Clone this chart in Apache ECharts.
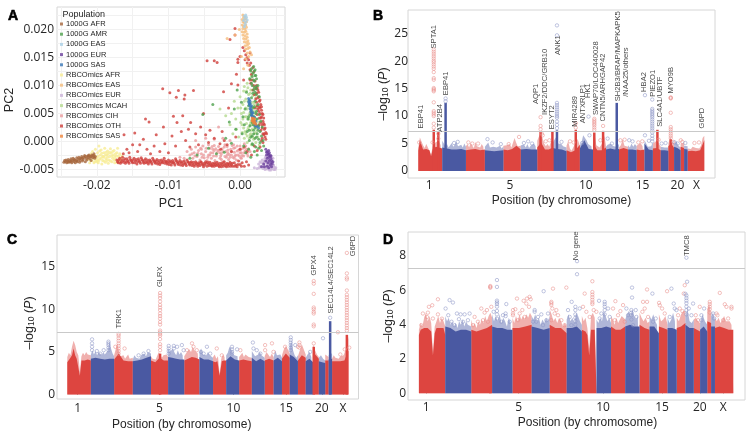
<!DOCTYPE html>
<html><head><meta charset="utf-8"><style>html,body{margin:0;padding:0;background:#fff}#c{width:754px;height:437px}</style>
<script src="https://cdn.jsdelivr.net/npm/echarts@6/dist/echarts.min.js"></script></head><body><div id="c"></div>
<script>
// ---------- Panel A: PC1/PC2, in units of 1e-4 ----------
const g1000AFR=[[-246,-37],[-245,-34],[-244,-36],[-243,-33],[-242,-38],[-241,-35],[-240,-32],[-239,-37],[-238,-34],[-237,-36],[-236,-31],[-235,-38],[-234,-34],[-233,-30],[-232,-36],[-231,-32],[-230,-38],[-229,-34],[-228,-29],[-227,-36],[-226,-32],[-225,-28],[-224,-37],[-223,-34],[-222,-30],[-221,-27],[-220,-35],[-219,-32],[-218,-28],[-217,-25],[-216,-36],[-215,-30],[-214,-33],[-213,-26],[-212,-29],[-211,-24],[-210,-31],[-209,-27],[-208,-34],[-207,-24],[-206,-29],[-205,-25],[-204,-22],[-203,-30],[-202,-27],[-240,-36],[-236,-35],[-232,-33],[-228,-35],[-224,-31],[-220,-30],[-216,-27],[-212,-26],[-208,-27],[-204,-27]];
const g1000AMR=[[-44,-12],[-33,-22],[-22,-19],[-38,66],[-52,48],[-15,35],[-8,58],[-6,22],[-4,92],[2,70],[4,44],[3,14],[5,-8],[6,30],[7,58],[8,-20],[9,88],[10,18],[11,40],[12,-14],[12,64],[13,2],[14,28],[14,112],[15,48],[15,-28],[16,78],[16,130],[17,10],[17,100],[17,34],[18,-6],[18,60],[18,122],[19,20],[19,92],[19,134],[20,44],[20,-18],[20,108],[21,72],[21,6],[21,118],[21,128],[22,30],[22,-10],[22,98],[23,54],[23,84],[23,112],[24,14],[24,40],[24,-24],[25,66],[25,100],[26,4],[26,28],[26,-12],[27,48],[27,80],[28,-2],[28,18],[29,36],[30,10],[30,-16],[31,26],[32,2],[33,-8],[-60,-24],[-70,-30],[-12,-3],[-20,6],[15,126],[17,116],[19,110],[20,126],[22,118],[16,104],[18,86],[20,96],[21,88],[23,94],[13,20],[15,8],[17,-4],[19,14],[21,24],[23,8],[25,20],[12,44],[16,52],[18,30],[20,62],[22,50]];
const g1000EAS=[[6,224],[7,220],[8,226],[5,216],[8,213],[9,222],[7,209],[10,217],[6,205]];
const g1000EUR=[[36,-14],[38,-18],[40,-16],[37,-24],[39,-22],[41,-20],[42,-26],[38,-30],[40,-28],[43,-30],[44,-34],[41,-34],[39,-38],[43,-38],[45,-40],[42,-42],[38,-44],[34,-45],[30,-45],[44,-45],[40,-47],[37,-19],[40,-23],[43,-25],[36,-35],[46,-36],[33,-40]];
const g1000SAS=[[12,77],[13,74],[12,71],[14,68],[13,65],[15,62],[14,59],[16,56],[15,53],[17,50],[16,47],[18,44],[19,41],[18,38],[20,35],[21,32],[22,29],[24,27],[26,24],[14,72],[16,64],[18,52],[20,43],[22,36],[13,68],[15,57],[17,45],[19,37],[21,28]];
const rbcAFR=[[-212,-32],[-210,-38],[-209,-27],[-208,-22],[-207,-34],[-206,-18],[-205,-30],[-204,-38],[-203,-24],[-202,-14],[-201,-34],[-200,-28],[-199,-20],[-198,-38],[-197,-8],[-196,-31],[-195,-24],[-194,-15],[-193,-40],[-192,-34],[-191,-27],[-190,-20],[-189,-12],[-188,-37],[-187,-31],[-186,-24],[-185,-17],[-184,-39],[-183,-33],[-182,-27],[-181,-13],[-180,-21],[-179,-36],[-178,-30],[-177,-24],[-176,-16],[-175,-38],[-174,-32],[-173,-26],[-172,-20],[-171,-12],[-170,-35],[-169,-29],[-168,-22],[-167,-36],[-166,-30],[-165,-26],[-194,-30],[-200,-36],[-186,-34],[-178,-18],[-190,-28],[-182,-19],[-174,-22],[-198,-26],[-205,-25],[-170,-26],[-188,-24],[-202,-30],[-197,-34],[-193,-21],[-190,-35],[-185,-28],[-181,-35],[-176,-33],[-172,-37],[-184,-22],[-192,-27],[-199,-33],[-203,-36],[-196,-17],[-187,-19],[-179,-26],[-175,-28],[-168,-32]];
const rbcEAS=[[4,226],[5,222],[7,223],[3,218],[6,218],[8,219],[4,214],[6,212],[9,214],[3,208],[5,206],[8,208],[4,202],[7,201],[9,204],[3,196],[6,195],[8,197],[4,190],[7,189],[10,192],[5,184],[8,183],[10,186],[6,178],[9,177],[11,180],[7,171],[10,172],[12,175],[8,165],[11,166],[13,168],[10,158],[14,160],[12,152],[16,155],[-18,184],[-7,190],[2,152],[8,148],[5,130],[11,136],[-1,200]];
const rbcEUR=[[26,-40],[28,-44],[30,-38],[32,-48],[33,-42],[34,-35],[35,-50],[36,-44],[37,-38],[38,-33],[38,-49],[39,-43],[40,-38],[41,-51],[42,-46],[42,-33],[43,-42],[44,-48],[45,-37],[46,-44],[47,-50],[48,-46],[46,-30],[35,-30],[31,-33],[28,-36],[44,-27],[40,-25],[36,-27],[41,-48],[49,-50],[20,-47],[24,-48],[30,-44],[33,-37],[36,-48],[39,-35],[43,-51],[47,-42],[50,-47],[27,-47],[34,-46],[38,-41]];
const rbcMCAH=[[-14,30],[-12,50],[-10,14],[-8,72],[-6,40],[-5,22],[-3,60],[-2,8],[0,80],[1,34],[2,50],[3,16],[4,66],[5,24],[5,90],[6,6],[7,44],[8,76],[8,14],[9,32],[10,58],[10,-2],[11,22],[12,84],[12,40],[13,68],[13,6],[14,30],[14,52],[15,14],[15,92],[16,38],[16,-6],[17,62],[17,22],[18,82],[18,46],[19,4],[19,30],[20,66],[20,14],[21,52],[22,-2],[22,78],[23,24],[23,40],[24,60],[25,8],[26,34],[27,-6],[10,104],[6,98],[-20,46],[-28,58],[13,112],[16,118],[3,30],[5,52],[7,18],[8,60],[9,44],[10,10],[11,72],[12,26],[13,48],[14,12],[14,86],[15,34],[15,68],[16,20],[16,54],[17,42],[18,8],[18,70],[19,54],[20,28],[21,38],[21,84],[22,16],[23,62],[24,28],[6,72],[9,90],[11,96],[1,60],[4,40]];
const rbcCIH=[[-70,-24],[-68,-14],[-66,-30],[-64,-20],[-62,-10],[-60,-27],[-58,-16],[-56,-33],[-54,-22],[-52,-8],[-50,-29],[-48,-18],[-46,-34],[-44,-24],[-42,-12],[-40,-30],[-38,-20],[-36,-7],[-35,-34],[-33,-26],[-31,-16],[-30,-9],[-28,-30],[-26,-22],[-25,-13],[-23,-36],[-21,-27],[-20,-18],[-18,-9],[-16,-32],[-15,-23],[-13,-14],[-11,-7],[-10,-28],[-8,-19],[-7,-11],[-5,-33],[-3,-24],[-2,-15],[0,-8],[1,-29],[2,-20],[4,-12],[5,-26],[7,-17],[8,-8],[10,-22],[12,-13],[14,-18],[-74,-18],[-78,-30],[-84,-28],[-90,-34],[-62,2],[-48,6],[-36,4],[-30,26],[-24,6],[-14,2],[-38,-14],[-28,-20],[-18,-24],[-8,-30],[-44,-6],[-54,-14],[2,-30],[-12,-24],[-4,-8],[6,-4],[-67,-22],[-63,-26],[-59,-21],[-55,-12],[-51,-24],[-47,-12],[-45,-28],[-41,-20],[-37,-26],[-34,-13],[-32,-20],[-29,-15],[-27,-26],[-24,-18],[-22,-10],[-19,-28],[-17,-15],[-14,-28],[-12,-18],[-9,-12],[-6,-24],[-4,-17],[-1,-26],[1,-14],[3,-25],[6,-20],[9,-14],[11,-26],[-42,-24],[-36,-16],[-26,-32],[-17,-20],[-7,-26],[0,-20],[-53,-28],[-39,-9],[-21,-6],[-9,-6]];
const rbcOTH=[[-172,-33],[-170,-38],[-168,-30],[-166,-36],[-164,-28],[-162,-34],[-160,-39],[-158,-31],[-156,-36],[-154,-28],[-152,-34],[-150,-38],[-148,-30],[-146,-35],[-144,-40],[-142,-31],[-140,-36],[-138,-29],[-136,-34],[-134,-39],[-132,-31],[-130,-36],[-128,-40],[-126,-33],[-124,-37],[-122,-30],[-120,-35],[-118,-39],[-116,-32],[-114,-37],[-112,-41],[-110,-33],[-108,-38],[-106,-30],[-104,-35],[-102,-40],[-100,-33],[-98,-37],[-96,-42],[-94,-34],[-92,-39],[-90,-31],[-88,-36],[-86,-41],[-84,-34],[-82,-38],[-80,-43],[-78,-35],[-76,-40],[-74,-33],[-72,-37],[-70,-42],[-68,-36],[-66,-40],[-64,-44],[-62,-36],[-60,-41],[-58,-38],[-56,-43],[-54,-37],[-52,-42],[-50,-39],[-48,-36],[-46,-44],[-44,-40],[-42,-37],[-40,-43],[-38,-39],[-36,-44],[-34,-41],[-32,-37],[-30,-43],[-28,-39],[-26,-45],[-24,-41],[-22,-36],[-20,-43],[-18,-39],[-16,-44],[-14,-37],[-12,-41],[-10,-44],[-8,-38],[-6,-42],[-4,-45],[-2,-35],[0,-41],[3,-38],[6,-44],[9,-36],[12,-42],
[-171,-36],[-169,-33],[-167,-39],[-165,-33],[-163,-37],[-161,-31],[-159,-36],[-157,-34],[-155,-39],[-153,-32],[-151,-36],[-149,-33],[-147,-38],[-145,-32],[-143,-36],[-141,-34],[-139,-39],[-137,-32],[-135,-37],[-133,-34],[-131,-38],[-129,-33],[-127,-37],[-125,-35],[-123,-40],[-121,-33],[-119,-37],[-117,-35],[-115,-40],[-113,-34],[-111,-38],[-109,-36],[-107,-34],[-105,-39],[-103,-36],[-101,-37],[-99,-41],[-97,-35],[-95,-38],[-93,-37],[-91,-42],[-89,-34],[-87,-39],[-85,-37],[-83,-42],[-81,-36],[-79,-40],[-77,-38],[-75,-43],[-73,-36],[-71,-40],[-69,-38],[-67,-43],[-65,-37],[-63,-41],[-61,-39],[-59,-44],[-57,-40],[-55,-36],[-53,-40],[-51,-45],[-49,-42],[-47,-39],[-45,-37],[-43,-43],[-41,-40],[-39,-44],[-37,-41],[-35,-38],[-33,-43],[-31,-40],[-29,-45],[-27,-42],[-25,-38],[-23,-44],[-21,-40],[-19,-45],[-17,-41],[-15,-40],[-13,-44],[-11,-39],[-7,-44],[-3,-41],[2,-44],
[-163,-22],[-158,-14],[-162,12],[-147,15],[-150,-6],[-155,-20],[-143,-18],[-140,-6],[-135,4],[-132,40],[-127,35],[-130,-14],[-125,-22],[-120,-8],[-117,12],[-112,-18],[-107,26],[-105,-4],[-108,94],[-98,87],[-100,-20],[-95,10],[-93,45],[-90,-8],[-88,34],[-89,79],[-86,91],[-82,18],[-80,46],[-78,76],[-77,83],[-76,2],[-72,22],[-70,-10],[-69,34],[-65,91],[-62,14],[-58,-6],[-55,26],[-51,50],[-48,12],[-46,144],[-44,-2],[-42,20],[-36,144],[-32,141],[-36,6],[-28,-4],[-25,18],[-23,89],[-22,2],[-16,60],[-14,182],[-12,-18],[-12,103],[-7,202],[-7,190],[-5,120],[-3,147],[-3,141],[-3,101],[5,110],[0,152],[4,168],[6,162],[8,155],[10,150],[12,146],[7,146],[10,140],[14,158],[13,136],[15,140],[14,128],[16,120],[18,132],[14,110],[17,110],[19,124],[15,104],[19,100],[21,108],[18,92],[22,94],[24,96],[20,84],[23,86],[26,88],[22,76],[25,78],[27,72],[24,64],[27,62],[29,66],[26,54],[28,50],[30,56],[27,42],[30,44],[32,48],[29,34],[32,36],[34,30],[31,24],[34,22],[36,16],[33,12],[35,8],[30,2],[32,-2],[28,-10],[20,-8],[24,-16],[16,-24],[10,-18],[6,-10],[0,-14],[-6,8],[-18,-6],[-27,-14],
[23,100],[25,92],[26,80],[28,74],[28,60],[30,62],[31,50],[33,42],[33,32],[35,24],[37,14],[25,58],[23,70],[29,42],[31,30],[27,30],[29,20],[24,48],[21,60],[34,14],[36,4],[32,14],[31,6]];
const rbcSAS=[[17,42],[18,39],[19,41],[18,36],[20,37],[21,34],[19,33],[20,40],[22,31],[17,37]];
// ---------- Panels B, C, D ----------
const chromLen=[79,78,62.5,61,57.5,54,51,45.5,44,43.5,42.5,43,30,28,26,27.5,26,25,19,21.5,11.5,11.5,55];
const tickNames=['1','5','10','15','20','X'];
const bTicks=[36,302,552,739,854,917], cTicks=[35,309,557,733,853,924], dTicks=[22,299,552,729,842,912];
const threshold=7.3;
const bPeak=[[4.2,6.1,6.4,4.7,4.2,4.9,4.3,4.0,3.0,4.4,4.9,5.3,5.0,5.4,4.7,4.9],[5.5,5.2,4.5,4.9,4.3,4.6,5.1,4.4,4.3,5.3,4.5,4.2,4.8,4.3,5.0,4.4],[4.5,4.9,4.3,5.1,4.6,4.2,5.3,4.5,4.8,4.3,4.9,4.4,4.6],[4.4,4.2,5.2,4.3,4.0,4.4,4.1,4.3,4.2,4.6,4.1,4.5],[4.6,4.3,4.7,4.4,4.9,4.3,5.1,6.0,5.2,4.5,4.8,4.6],[4.7,4.5,4.8,4.3,4.9,4.2,4.6,4.4,5.0,4.5,4.8],[5.5,6.3,6.9,6.1,5.0,4.5,4.9,4.4,4.7,6.4],[5.2,5.7,6.2,5.0,4.7,4.9,4.5,4.8,4.3],[4.6,5.4,4.1,3.7,4.3,4.9,6.0,5.5,4.6],[4.7,5.2,6.5,6.2,5.6,4.9,5.2,4.5,4.7],[5.8,6.6,4.7,4.4,4.3,4.6,5.2,6.4,4.7],[4.4,4.8,4.5,5.0,4.6,4.9,4.4,5.2,4.7],[4.3,4.7,5.8,4.6,4.9,4.4],[4.7,4.3,5.0,4.4,4.9,4.5],[4.6,4.3,5.1,4.5,4.7],[5.6,5.0,4.4,4.2,4.5,5.3],[5.0,4.7,5.5,5.0,4.4],[4.4,4.7,4.3,4.6,4.3],[5.0,6.2,6.0,4.9],[5.0,5.4,4.6,4.3],[5.0,4.8,5.1],[4.6,4.8,4.5],[4.1,4.3,4.0,4.4,4.1,4.2,4.4,4.1,4.6,6.0,6.4]];
const bBody=[[3.7,5.6,5.8,3.9,3.9,4.0,3.9,3.8,2.7,3.9,4.2,4.4,4.1,4.3,4.1,4.1],[4.3,4.1,3.9,3.9,4.0,3.8],[3.8,3.9,4.0,3.8,3.9],[3.8,3.7,3.6,3.7,3.8],[3.9,3.8,4.0,4.6,3.9],[3.9,4.0,3.9,3.9],[4.3,5.2,3.9,3.9,4.3],[4.2,4.0,3.9,3.6],[3.8,3.4,3.8,4.8],[4.1,5.6,4.0,3.9],[5.0,3.8,3.8,4.3],[3.9,4.1,3.9,4.0],[3.9,4.2,3.9],[3.9,3.9,3.8],[3.9,3.8,3.9],[5.0,3.9,3.8],[4.1,4.2,3.8],[3.8,3.8,3.7],[4.5,5.0,4.2],[4.4,4.2,3.8],[4.4,4.2],[4.0,3.9],[3.6,3.7,3.6,3.8,5.6]];
const bTowers=[[51,7.5],[66,7.2],[90,12.4],[403,7.2],[442,7.2],[457,7.4],[519,7.5],[580,7.0],[609,7.3],[654,12.4],[788,7.5],[832,5.8]];
const bHits=[[51,7.9],[51,8.6],[51,10],[51,10.3],[51,10.6],[51,10.9],[51,12.5],[51,14.5],[51,14.7],[51,14.9],[51,15.1],[51,16.6],[51,16.9],[51,18],[51,18.6],[51,19],[51,19.4],[51,19.8],[51,20.1],[51,20.5],[51,20.9],[51,21.3],[51,21.7],[51,22.1],[66,6.8],[66,5.9],[90,13.2],[90,12.7],[403,9.8],[403,8.2],[403,7.6],[407,6.8],[410,6.5],[457,26.5],[457,24.7],[457,12.4],[457,12],[457,11.6],[457,11.2],[457,10.8],[457,10.4],[457,10],[457,9.7],[457,9],[457,8.4],[457,7.8],[519,8.7],[519,7.9],[561,9.9],[580,9.5],[580,9.2],[580,8.9],[580,8.6],[580,8.3],[580,7.9],[580,7.5],[609,8.2],[624,5.9],[695,5.6],[747,13.8],[747,6.5],[771,13],[771,11.3],[771,11],[771,10.7],[771,10.4],[771,10.1],[771,9.8],[771,9.4],[771,9],[771,8.6],[771,8.2],[771,7.8],[771,7.4],[771,7],[771,6.4],[771,5.9],[771,5.4],[832,13.3],[832,13.4],[832,13.2],[832,10.6],[832,8],[832,7.6],[832,7.2],[832,6.8],[832,6.4],[832,6],[845,5.2],[865,5.6],[855,5],[880,5.1],[840,5.3],[47,5.2],[3,5.2],[130,5.3],[118,5.1],[178,5.0],[165,5.2],[197,5.0],[228,5.8],[245,5.2],[272,4.9],[298,4.9],[332,6.2],[362,5.4],[348,5.1],[375,5.0],[420,5.4],[432,5.6],[472,5.3],[500,5.4],[512,5.2],[540,5.1],[564,6.5],[600,5.6],[638,5.0],[666,5.6],[680,5.7],[706,5.4],[725,5.2],[738,5.4],[760,5.5],[815,5.1],[792,5.7],[802,5.0],[870,5.3],[910,5.1],[925,5.2]];
const bLabels=[[7,7.75,'EBP41'],[52,22.3,'SPTA1'],[70,7.15,'ATP2B4'],[92,13.8,'EBP41'],[388,12.2,'AQP1'],[417,10.2,'IKZF2/DDC/GRB10'],[440,7.6,'ESYT2'],[460,21.1,'ANK1'],[516,8.06,'MIR4289'],[543,8.7,'ANTXRLP1'],[560,13.3,'HK1'],[585,10.2,'SWAP70/LOC440028'],[609,9,'CNTN5/ARHGAP42'],[657,12.7,'SH2B3/BRAP/MAPKAPK5'],[685,13.5,'/NAA25/others'],[745,14.4,'HBA2'],[774,13.5,'PIEZO1'],[796,8.06,'SLC4A1/UBTF'],[832,14.1,'MYO9B'],[935,7.75,'G6PD']];
const cPeak=[[4.4,4.9,4.6,5.6,6.3,5.8,5.0,4.6,2.7,4.5,4.9,4.6,5.0,4.7,4.9,4.6],[4.7,5.2,4.7,5.1,4.6,5.0,4.8,4.6,5.0,4.7,4.8,5.2,6.2,5.4,4.8,4.5],[4.6,4.8,6.0,5.2,4.5,4.3,4.6,4.2,4.4,4.7,4.2,4.4,4.3],[4.1,4.6,4.3,4.5,4.2,4.6,4.4,4.8,4.5,5.0,5.2,4.8],[4.5,4.2,4.4,4.1,4.3,5.0,4.6,4.3,4.6,4.4,4.7,4.4],[5.5,5.0,4.8,5.4,4.9,4.6,5.2,4.7,5.0,4.6,4.5],[4.5,4.8,4.6,5.3,5.0,5.6,5.2,5.4,4.8,4.6],[5.0,5.4,4.7,4.9,4.6,5.0,4.6,4.5,4.3],[4.4,4.7,4.2,4.5,2.4,4.2,4.7,4.4,4.5],[4.6,4.9,5.6,5.3,4.9,4.6,4.8,4.5,4.7],[4.4,4.6,4.9,4.4,4.7,4.8,4.4,4.6,4.3],[5.1,4.9,4.5,4.3,4.7,5.0,4.6,4.4,4.3],[4.5,5.0,4.7,4.4,4.8,4.4],[4.3,5.2,4.6,4.4,4.7,4.3],[4.6,5.3,5.7,5.3,4.8],[5.6,6.3,5.2,4.6,4.3,4.6],[4.5,5.2,5.9,5.8,4.7],[4.3,4.7,5.0,4.4,4.3],[5.9,5.2,4.7,4.4],[4.3,4.6,4.2,4.0],[4.7,4.8,4.4],[4.6,5.0,4.7],[4.2,4.6,4.3,4.5,4.2,4.5,4.3,4.6,4.4,5.6,6.8]];
const cBody=[[3.8,4.0,4.3,4.6,5.4,4.6,4.2,4.0,2.2,4.0,4.1,4.0,4.2,4.1,4.0,4.0],[4.2,4.3,4.2,4.1,4.2,4.2],[4.1,4.8,4.0,3.9,3.9],[3.9,4.0,4.1,4.3,4.5],[4.0,3.8,4.3,4.0,4.0],[4.4,4.3,4.2,4.1,4.1],[4.0,4.2,4.4,4.3,4.1],[4.4,4.1,4.1,3.9],[3.9,3.8,3.9,2.2,3.9,4.0,4.0],[4.0,4.5,4.1,4.0],[4.0,4.1,4.0,3.9],[4.3,3.9,4.2,3.9],[4.0,4.2,4.0],[4.0,4.3,3.9],[4.2,4.8,4.3],[4.7,4.4,3.9],[4.0,4.6,4.3],[3.9,4.2,3.8],[5.0,4.2],[3.9,3.8,3.7],[4.0,4.0],[4.1,4.2],[3.9,3.9,3.9,4.0,5.2]];
const cTowers=[[881,8.6],[311,4.8],[826,5.6],[937,7.0]];
const cHits=[[83,6.47],[83,6],[83,5.6],[83,5.2],[138,6.2],[138,6],[138,5.8],[138,5.5],[138,5.2],[99,5.1],[110,4.8],[122,5.2],[161,5.6],[172,7.1],[172,6.9],[172,6.6],[172,6.3],[172,6],[172,5.7],[172,5.4],[172,5.1],[172,4.8],[192,5.4],[256,4.8],[272,5.1],[239,4.6],[311,11.9],[311,11.6],[311,11.3],[311,10.9],[311,10.5],[311,10.2],[311,9.9],[311,9.5],[311,9.2],[311,8.9],[311,8.5],[311,8.2],[311,7.5],[311,7.3],[311,7.1],[311,6.9],[311,6.5],[311,5.9],[311,5.6],[311,5.2],[340,5.7],[340,5.4],[340,5.1],[340,4.8],[357,5.7],[357,5.4],[368,5.6],[384,5.8],[390,5.2],[418,6],[423,5.6],[401,5.2],[434,5.2],[448,5],[468,5.6],[457,4.8],[479,4.8],[501,5.4],[518,4.6],[552,5.6],[552,5.3],[552,5],[552,4.8],[569,5.3],[580,5.2],[622,6.1],[624,5.4],[635,5.2],[647,4.8],[663,5.8],[663,5.2],[686,6],[691,5],[730,5.6],[749,6.7],[749,6.4],[749,6.1],[749,5.8],[749,5.5],[749,5.2],[764,5.8],[778,6.1],[778,5.8],[778,5.5],[773,5.6],[814,5],[826,13.3],[826,13],[826,11.8],[826,10.2],[826,10],[826,9.7],[826,9.5],[826,8.2],[826,8],[826,6],[857,6.6],[881,9],[907,7.3],[915,4.7],[937,16.6],[937,14.2],[937,13.7],[937,13.5],[937,12.2],[937,11.7],[937,11.4],[937,11.1],[937,10.8],[937,10.5],[937,10.2],[937,9.9],[937,9.6],[937,9.3],[937,9],[937,8.7],[937,8.4],[937,8.1],[937,7.8],[937,7.5],[930,5.3],[945,5.5]];
const cLabels=[[172,7.75,'TRK1'],[312,12.6,'GLRX'],[826,13.95,'GPX4'],[882,9.5,'SEC14L4/SEC14L2'],[956,16.2,'G6PD']];
const dPeak=[[3.7,4.1,3.9,4.4,4.7,4.2,4.5,4.1,2.4,3.9,4.2,4.5,4.1,4.4,4.2,3.9],[4.5,4.2,4.4,4.0,4.2,3.9,4.1,3.8,4.2,4.0,4.3,3.9,4.2,4.0,4.1,3.9],[4.3,3.9,4.1,3.8,4.2,4.0,4.3,4.1,4.5,4.2,4.5,4.7,4.4],[4.6,4.2,4.5,4.2,4.6,4.1,4.4,4.2,3.9,4.4,4.1,4.2],[4.4,4.1,4.5,4.2,4.6,4.3,4.5,4.3,4.6,4.4,4.7,4.5],[4.5,4.3,4.6,4.2,4.4,4.0,4.3,4.1,4.4,4.2,4.5],[4.9,4.6,4.2,4.4,4.1,4.4,4.2,3.9,4.1,3.9],[4.3,4.6,4.2,4.4,4.1,4.7,4.5,4.2,4.0],[4.5,4.2,4.4,3.8,2.6,4.5,4.7,4.4,4.5],[4.3,4.1,4.4,4.2,4.8,4.5,4.2,4.4,4.1],[4.5,4.3,4.0,4.4,4.1,4.2,4.5,4.6,4.3],[4.3,4.6,4.8,4.5,4.9,4.5,4.3,4.5,4.6],[4.7,4.4,4.2,4.4,4.1,4.2],[4.5,4.3,4.6,4.2,4.0,3.9],[4.6,4.2,4.3,4.5,4.0],[4.4,4.1,4.3,4.7,4.2,4.1],[4.4,4.2,4.6,4.8,4.8],[4.5,4.9,4.2,4.1,4.3],[4.3,4.4,4.2,4.1],[4.1,4.6,4.2,4.0],[4.9,5.2,4.6],[4.5,4.7,4.3],[4.4,4.2,4.4,4.1,4.3,4.5,4.2,4.1,4.2,4.0,4.1]];
const dBody=[[3.4,3.7,3.8,3.8,3.9,3.8,3.8,3.6,2.2,3.5,3.8,3.9,3.8,3.9,3.8,3.4],[3.9,3.8,3.6,3.7,3.7,3.6],[3.7,3.6,3.7,3.8,4.0],[3.9,3.8,3.8,3.7,3.7],[3.8,3.8,3.9,4.0],[3.9,3.8,3.7,3.8],[4.0,3.8,3.8,3.5],[3.8,3.8,3.9,3.6],[3.7,3.7,3.6,3.4,2.2,3.7,3.8,3.7,3.8],[3.8,3.8,3.9,3.8],[3.9,3.7,3.7,3.9],[3.9,4.0,3.9,3.9],[4.0,3.8,3.7],[3.9,3.9,3.5],[3.9,3.8,3.7],[3.8,3.8,3.7],[3.8,3.9,4.1],[4.0,3.8,3.8],[3.8,3.7,3.6],[3.7,3.9,3.6],[4.2,4.1],[3.9,3.9],[3.8,3.9,3.8,3.7,3.7]];
const dTowers=[[214,3.8]];
const dHits=[[27,4.7],[12,4.65],[30,5.04],[40,5.13],[57,5.48],[57,4.6],[24,4.45],[42,4.36],[7,3.97],[69,4.35],[80,4.94],[102,5.29],[92,5.43],[88,4.55],[114,4.65],[125,4.6],[137,4.6],[152,4.65],[98,4.17],[107,3.97],[132,4.17],[120,4.32],[147,4.26],[167,4.45],[187,4.94],[197,4.7],[204,4.85],[214,6.2],[214,6.25],[214,6.15],[217,5.04],[177,4.17],[192,4.26],[207,4.17],[162,3.97],[234,6.6],[234,6.2],[234,5.4],[234,5.3],[234,5.2],[234,5.05],[234,4.8],[234,4.6],[234,4.35],[262,5.2],[260,4.65],[260,4.5],[282,4.85],[282,4.65],[282,4.55],[224,4.75],[247,4.17],[272,4.17],[252,4.55],[294,5.52],[289,4.9],[314,5.39],[324,5.52],[332,5.62],[335,5.48],[322,5.23],[302,4.65],[297,4.26],[317,4.45],[330,5.04],[310,4.85],[374,5.95],[347,4.85],[347,4.75],[357,4.45],[367,4.6],[382,4.26],[342,4.17],[352,4.17],[372,3.97],[387,4.65],[402,6.1],[397,5.33],[397,5.25],[397,5.15],[400,4.94],[412,4.85],[417,4.55],[407,4.65],[427,4.26],[437,3.97],[397,4.26],[442,6.16],[458,5.33],[474,6.94],[474,7.7],[469,5.04],[469,4.85],[469,4.6],[469,4.4],[469,4.2],[469,4],[447,4.85],[452,4.45],[482,4.94],[457,3.97],[520,6.53],[497,5.81],[520,5.9],[520,5.75],[520,5.6],[520,5.45],[520,5.3],[520,5.2],[492,5.04],[502,4.75],[512,4.45],[524,4.85],[532,4.75],[540,5.39],[557,5.33],[557,5.2],[557,5.05],[557,4.85],[557,4.6],[567,4.94],[547,4.65],[542,4.36],[572,4.45],[589,5.37],[582,4.94],[604,4.79],[612,5.14],[597,4.55],[587,4.26],[617,4.17],[639,6.16],[639,5.58],[650,4.85],[637,4.85],[637,4.7],[637,4.55],[637,4.3],[627,4.55],[652,4.45],[642,3.97],[622,4.94],[684,6.05],[672,5.33],[684,5.33],[677,4.94],[670,4.75],[687,4.45],[700,5.81],[720,5.27],[722,5.13],[710,4.36],[702,4.17],[744,5.95],[729,4.94],[737,4.65],[757,6.1],[764,5.23],[767,4.94],[752,4.45],[772,4.85],[794,5.81],[782,4.94],[790,4.79],[777,4.55],[802,7.9],[804,6.5],[797,6.3],[799,5.8],[802,5.7],[802,5.55],[802,5.4],[802,5.25],[802,5.05],[802,4.85],[802,4.6],[822,5.23],[817,4.55],[809,4.94],[830,4.55],[837,4.26],[842,5.04],[855,4.94],[847,4.55],[847,4.26],[872,5.33],[872,5.2],[872,5.05],[872,4.9],[872,4.7],[882,4.65],[885,4.36],[902,5.85],[917,5.19],[922,5.04],[937,5.04],[937,4.94],[895,4.55],[912,4.26],[927,4.36],[892,4.65]];
const dLabels=[[472,7.75,'No gene'],[802,8,'TMC8']];

const RED='#dd4540',BLUE='#4a59a2',PRED='#e98f8c',PBLUE='#8d97c8',INK='#262626',BOX='#d6d6d6';
const NUM='"Open Sans",sans-serif',SANS='"Liberation Sans",Arial,sans-serif';
const starts=[];chromLen.reduce((s,l,i)=>(starts[i]=s,s+l),0);
const chromAt=x=>{let i=0;while(i<22&&x>=starts[i+1])i++;return i;};
const pts=(rows,odd)=>{const out=[];rows.forEach((r,i)=>{if(i%2!==odd)return;r.forEach((v,j)=>out.push([starts[i]+chromLen[i]*j/(r.length-1),v]));out.push([starts[i]+chromLen[i],null]);});return out;};
const scale=a=>a.map(p=>[p[0]/1e4,p[1]/1e4]);
const yName={a:{fontFamily:SANS,fontSize:12.5,color:INK},s:{fontFamily:SANS,fontSize:8.5,color:INK,verticalAlign:'bottom',lineHeight:11},i:{fontFamily:SANS,fontSize:12.5,fontStyle:'italic',color:INK}};

const pcNames=['1000G AFR','1000G AMR','1000G EAS','1000G EUR','1000G SAS','RBCOmics AFR','RBCOmics EAS','RBCOmics EUR','RBCOmics MCAH','RBCOmics CIH','RBCOmics OTH','RBCOmics SAS'];
const pcData=[g1000AFR,g1000AMR,g1000EAS,g1000EUR,g1000SAS,rbcAFR,rbcEAS,rbcEUR,rbcMCAH,rbcCIH,rbcOTH,rbcSAS];
const pcColors=['#a6663c','#4fa14d','#a9cfe6','#6a3f9c','#3b78b8','#f7ec95','#f5bd7c','#cbb3d8','#b4d98e','#eb9c9f','#cf3f3b','#f0843c'];
const pcZ=[3,4,6,5,6,2,5,2,3,2,3,7];

const series=pcNames.map((n,i)=>({type:'scatter',name:n,xAxisIndex:0,yAxisIndex:0,data:scale(pcData[i]),symbol:'circle',symbolSize:3,z:pcZ[i],itemStyle:{color:pcColors[i]},silent:true}));

function manhattan(ax,peak,body,towers,hits,labels){
  const area=(data,col,op)=>({type:'line',xAxisIndex:ax,yAxisIndex:ax,data,showSymbol:false,connectNulls:false,lineStyle:{width:0},areaStyle:{color:col,opacity:op,origin:0},silent:true,z:2});
  series.push(area(pts(peak,0),PRED,.7),area(pts(peak,1),PBLUE,.7),area(pts(body,0),RED,1),area(pts(body,1),BLUE,1));
  const tr=t=>t.filter(p=>chromAt(p[0])%2===0), tb=t=>t.filter(p=>chromAt(p[0])%2===1);
  [[tr,RED],[tb,BLUE]].forEach(([f,c])=>series.push({type:'bar',xAxisIndex:ax,yAxisIndex:ax,data:f(towers),barWidth:2.5,barGap:'-100%',itemStyle:{color:c},silent:true,z:3}));
  [[tr,PRED],[tb,PBLUE]].forEach(([f,c])=>series.push({type:'scatter',xAxisIndex:ax,yAxisIndex:ax,data:f(hits),symbol:'circle',symbolSize:3.4,itemStyle:{color:'rgba(255,255,255,0)',borderColor:c,borderWidth:.7},silent:true,z:4}));
  series.push({type:'scatter',xAxisIndex:ax,yAxisIndex:ax,data:labels,symbolSize:0,silent:true,z:5,
    label:{show:true,position:[0,0],rotate:90,align:'left',verticalAlign:'middle',fontFamily:SANS,fontSize:7.6,color:'#111',formatter:p=>p.value[2]},
    markLine:{silent:true,symbol:'none',animation:false,label:{show:false},lineStyle:{type:'solid',color:'#c9c9c9',width:1},data:[{yAxis:threshold}]}});
}
manhattan(1,bPeak,bBody,bTowers,bHits,bLabels);
manhattan(2,cPeak,cBody,cTowers,cHits,cLabels);
manhattan(3,dPeak,dBody,dTowers,dHits,dLabels);

const xM=(gi,min,max,ticks,margin,pad)=>({type:'value',gridIndex:gi,min,max,splitLine:{show:false},axisLine:{show:false},
  axisTick:{show:true,inside:true,length:3,lineStyle:{color:'#555',width:1},customValues:ticks},
  axisLabel:{customValues:ticks,margin,fontFamily:NUM,fontSize:12,color:INK,formatter:v=>tickNames[ticks.indexOf(v)]},
  name:'Position (by chromosome)',nameLocation:'middle',nameGap:pad[0],nameTextStyle:{fontFamily:SANS,fontSize:12,color:INK,padding:pad[1]}});
const yM=(gi,min,max,ticks,margin,gap,pad)=>({type:'value',gridIndex:gi,min,max,splitLine:{show:false},axisLine:{show:false},axisTick:{show:false},
  axisLabel:{customValues:ticks,margin,fontFamily:NUM,fontSize:12,color:INK,formatter:v=>String(v)},
  name:'{a|–log}{s|10}{a| (}{i|P}{a|)}',nameLocation:'middle',nameRotate:90,nameGap:gap,nameTextStyle:{rich:yName,padding:pad}});

const faint={show:true,lineStyle:{color:'#f1f1f1',width:1}};
const option={animation:false,backgroundColor:'#fff',
 grid:[{left:57,top:7,width:228,height:170,show:true,borderColor:BOX,borderWidth:1},
       {left:408,top:10,width:307,height:168,show:true,borderColor:BOX,borderWidth:1},
       {left:57,top:235,width:301.5,height:164,show:true,borderColor:BOX,borderWidth:1},
       {left:408,top:232,width:337,height:168,show:true,borderColor:BOX,borderWidth:1}],
 xAxis:[{type:'value',gridIndex:0,min:-0.02556,max:0.00628,splitLine:faint,axisLine:{show:false},axisTick:{show:false,customValues:[-0.025,-0.02,-0.015,-0.01,-0.005,0,0.005]},
         axisLabel:{customValues:[-0.02,-0.01,0],margin:3,fontFamily:NUM,fontSize:12,color:INK,formatter:v=>v.toFixed(2)},
         name:'PC1',nameLocation:'middle',nameGap:20,nameTextStyle:{fontFamily:SANS,fontSize:12.5,color:INK}},
        xM(1,-33.9,977.8,bTicks,2,[17,[0,0,0,0]]),
        xM(2,-34.5,976,cTicks,4,[20,[0,52,0,0]]),
        xM(3,-32.7,977.6,dTicks,2,[17,[0,0,0,22]])],
 yAxis:[{type:'value',gridIndex:0,min:-0.00634,max:0.02402,splitLine:faint,axisLine:{show:false},axisTick:{show:false,customValues:[-0.005,-0.0025,0,0.0025,0.005,0.0075,0.01,0.0125,0.015,0.0175,0.02,0.0225]},
         axisLabel:{customValues:[-0.005,0,0.005,0.01,0.015,0.02],margin:3,fontFamily:NUM,fontSize:12,color:INK,formatter:v=>v.toFixed(3)},
         name:'PC2',nameLocation:'middle',nameRotate:90,nameGap:30,nameTextStyle:{fontFamily:SANS,fontSize:12.5,color:INK,padding:[0,16,0,0]}},
        yM(1,-1.27,29.3,[0,5,10,15,20,25],0,14,[0,0,0,0]),
        yM(2,-0.52,18.7,[0,5,10,15],2,21,[0,12,0,0]),
        yM(3,-0.39,9.4,[0,2,4,6,8],2,13,[0,0,0,0])],
 legend:{data:pcNames,orient:'vertical',left:60,top:20,itemWidth:3,itemHeight:3,itemGap:2.2,icon:'rect',selectedMode:false,padding:0,
   textStyle:{fontFamily:SANS,fontSize:7.5,color:INK,lineHeight:8,padding:[0,0,0,-2]}},
 title:[['A',8,9],['B',373,9],['C',7,233],['D',383,233]].map(([t,l,tp])=>({text:t,left:l,top:tp,padding:0,textStyle:{fontFamily:SANS,fontSize:14,fontWeight:'bold',color:'#000',textBorderColor:'#000',textBorderWidth:.6}}))
   .concat([{text:'Population',left:62.5,top:10,padding:0,textStyle:{fontFamily:SANS,fontSize:9,fontWeight:'normal',color:INK}}]),
 series};
echarts.init(document.getElementById('c'),null,{renderer:'canvas'}).setOption(option);
</script></body></html>
